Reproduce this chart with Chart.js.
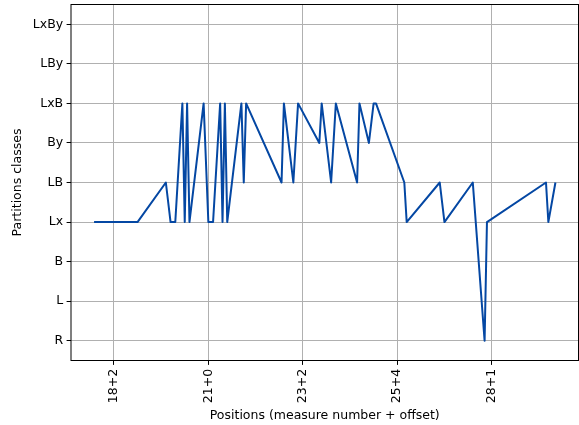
<!DOCTYPE html>
<html>
<head>
<meta charset="utf-8">
<script src="https://cdn.jsdelivr.net/npm/chart.js@4"></script>
<style>
  html, body { margin: 0; padding: 0; background: #fff; }
  #wrap { width: 579px; height: 425px; position: relative; }
</style>
</head>
<body>
<div id="wrap"><canvas id="partitionsChart"></canvas></div>
<script>
// y categories, bottom to top
const classes = ["R", "L", "B", "Lx", "LB", "By", "LxB", "LBy", "LxBy"];

// x tick positions and their labels
const tickValues = [0, 10, 20, 30, 40];
const tickLabels = ["18+2", "21+0", "23+2", "25+4", "28+1"];

// positions
const positions = [
  -2.1, 2.5, 5.5, 6, 6.5, 7.25, 7.5, 7.75, 8, 9.5,
  10, 10.5, 11.25, 11.5, 11.75, 12, 13.5, 13.75, 14, 17.75,
  18, 19, 19.5, 21.75, 22, 23, 23.5, 25.75, 26, 27,
  27.5, 27.75, 30.75, 31, 34.5, 35, 38, 39.25, 39.5, 45.75,
  46, 46.75
];
const partitionClasses = [
  "Lx", "Lx", "LB", "Lx", "Lx", "LxB", "Lx", "LxB", "Lx", "LxB",
  "Lx", "Lx", "LxB", "Lx", "LxB", "Lx", "LxB", "LB", "LxB", "LB",
  "LxB", "LB", "LxB", "By", "LxB", "LB", "LxB", "LB", "LxB", "By",
  "LxB", "LxB", "LB", "Lx", "LB", "Lx", "LB", "R", "Lx", "LB",
  "Lx", "LB"
];

const points = positions.map((x, i) => ({ x: x, y: classes.indexOf(partitionClasses[i]) }));

// matplotlib-like 5% margins
const xMin = Math.min(...positions);
const xMax = Math.max(...positions);
const margin = (xMax - xMin) * 0.05;

const fontFamily = "'DejaVu Sans', sans-serif";
const fontSize = 12.5;

const frame = {
  id: "frame",
  afterDraw(chart) {
    const { ctx, chartArea } = chart;
    ctx.save();
    ctx.strokeStyle = "#000";
    ctx.lineWidth = 1;
    ctx.strokeRect(chartArea.left, chartArea.top, chartArea.right - chartArea.left, chartArea.bottom - chartArea.top);
    ctx.restore();
  }
};

const ctx = document.getElementById("partitionsChart").getContext("2d");
new Chart(ctx, {
  type: "line",
  data: {
    datasets: [
      {
        data: points,
        borderColor: "#0447a3",
        borderWidth: 2,
        borderJoinStyle: "round",
        pointRadius: 0,
        tension: 0,
        fill: false,
      },
    ],
  },
  options: {
    responsive: true,
    maintainAspectRatio: false,
    animation: false,
    layout: { padding: { top: 4.5, right: 0.5, left: 0, bottom: 0 } },
    plugins: {
      legend: { display: false },
      tooltip: { enabled: false },
    },
    scales: {
      x: {
        type: "linear",
        min: xMin - margin,
        max: xMax + margin,
        afterBuildTicks: (scale) => {
          scale.ticks = tickValues.map((v) => ({ value: v }));
        },
        afterFit: (scale) => {
          scale.height = 64.5;
          scale.paddingLeft = 0;
          scale.paddingRight = 0;
        },
        ticks: {
          autoSkip: false,
          minRotation: 90,
          maxRotation: 90,
          padding: 4,
          color: "#000",
          font: { family: fontFamily, size: fontSize },
          callback: (value) => tickLabels[tickValues.indexOf(value)],
        },
        grid: { color: "#b0b0b0", lineWidth: 1, tickLength: 4.4, tickColor: "#000" },
        border: { display: false },
        title: {
          display: true,
          text: "Positions (measure number + offset)",
          color: "#000",
          font: { family: fontFamily, size: fontSize },
          padding: { top: 0, bottom: 2 },
        },
      },
      y: {
        type: "linear",
        min: -0.5,
        max: 8.5,
        afterBuildTicks: (scale) => {
          scale.ticks = classes.map((c, i) => ({ value: i }));
        },
        afterFit: (scale) => {
          scale.width = 71;
          scale.paddingTop = 0;
          scale.paddingBottom = 0;
        },
        ticks: {
          autoSkip: false,
          padding: 3.5,
          color: "#000",
          font: { family: fontFamily, size: fontSize },
          callback: (value) => classes[value],
        },
        grid: { color: "#b0b0b0", lineWidth: 1, tickLength: 4.4, tickColor: "#000" },
        border: { display: false },
        title: {
          display: true,
          text: "Partitions classes",
          color: "#000",
          font: { family: fontFamily, size: fontSize },
          padding: { top: 10.5, bottom: 0 },
        },
      },
    },
  },
  plugins: [frame],
});
</script>
</body>
</html>
